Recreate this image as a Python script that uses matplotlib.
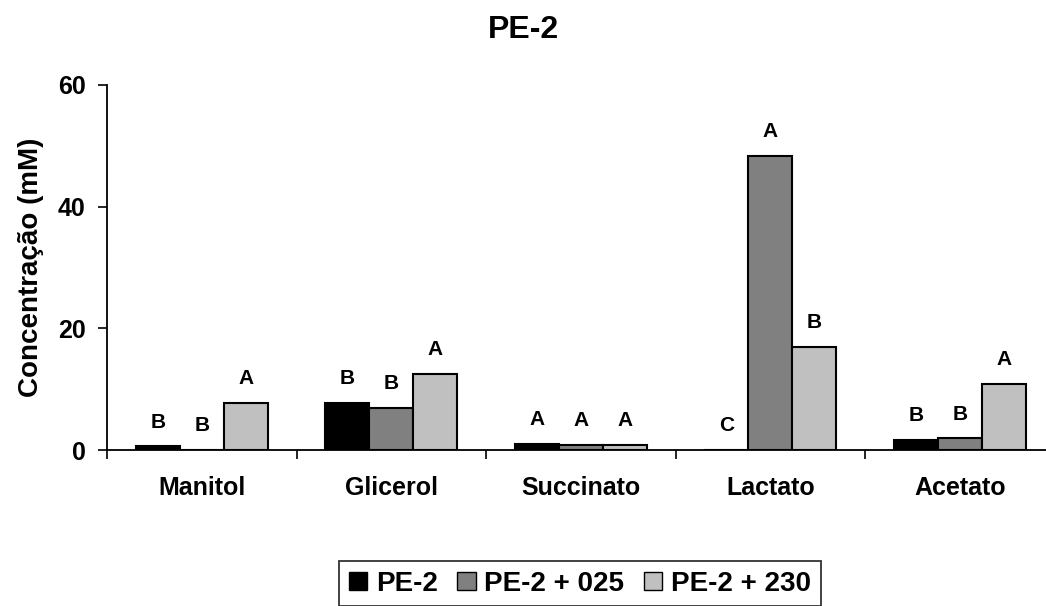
import matplotlib
matplotlib.use("Agg")
import matplotlib.pyplot as plt
import numpy as np

plt.rcParams['font.family'] = ['Liberation Sans', 'DejaVu Sans']
plt.rcParams['font.weight'] = 'bold'

categories = ["Manitol", "Glicerol", "Succinato", "Lactato", "Acetato"]
series_names = ["PE-2", "PE-2 + 025", "PE-2 + 230"]
pe2 = [0.6, 7.8, 1.0, 0.0, 1.6]
pe2_025 = [0.0, 6.9, 0.9, 48.4, 1.9]
pe2_230 = [7.8, 12.5, 0.9, 17.0, 10.8]
letters_pe2 = ["B", "B", "A", "C", "B"]
letters_025 = ["B", "B", "A", "A", "B"]
letters_230 = ["A", "A", "A", "B", "A"]
colors = ["#000000", "#808080", "#C0C0C0"]

fig = plt.figure(figsize=(10.46, 6.06), dpi=100)
ax = fig.add_axes([107/1046, 1 - 450/606, 947.5/1046, 365/606])

x = np.arange(len(categories))
w = 0.232
data = [pe2, pe2_025, pe2_230]
letters = [letters_pe2, letters_025, letters_230]
for i, (vals, lab, col) in enumerate(zip(data, series_names, colors)):
    xs = x + (i - 1) * w
    ax.bar(xs, vals, width=w, color=col, edgecolor="black", linewidth=1.5,
           label=lab, zorder=2)
    for xx, v, t in zip(xs, vals, letters[i]):
        ax.text(xx, v + 4.0, t, ha="center", va="center", fontsize=15,
                fontweight="bold")

ax.set_xlim(-0.5, len(categories) - 0.5)
ax.set_ylim(0, 60)
ax.set_yticks([0, 20, 40, 60])
ax.set_xticks(x)
ax.set_xticklabels(categories)
ax.set_xticks(np.arange(-0.5, len(categories) + 0.5, 1), minor=True)
ax.tick_params(axis="x", which="major", length=0, pad=19, labelsize=18)
ax.tick_params(axis="x", which="minor", length=9*0.72, width=1.2, direction="out")
ax.tick_params(axis="y", length=9*0.72, width=1.2, pad=9, labelsize=18)
for s in ["top", "right"]:
    ax.spines[s].set_visible(False)
for s in ["left", "bottom"]:
    ax.spines[s].set_linewidth(1.3)

ax.set_ylabel("Concentração (mM)", fontsize=20, fontweight="bold")
ax.yaxis.set_label_coords(-0.066, 0.5)

fig.text(0.5, 1 - 30/606, "PE-2", ha="center", va="center", fontsize=23,
         fontweight="bold")

leg = fig.legend(loc="upper center", bbox_to_anchor=(580/1046, 1 - 561/606),
                 ncol=3, fontsize=20, frameon=True, fancybox=False,
                 handlelength=0.65, handleheight=0.65, handletextpad=0.32,
                 columnspacing=0.7, borderpad=0.35, borderaxespad=0)
leg.get_frame().set_edgecolor("black")
leg.get_frame().set_linewidth(1.3)
for h in leg.legend_handles:
    h.set_linewidth(1.0)

fig.savefig("out.png", dpi=100)
